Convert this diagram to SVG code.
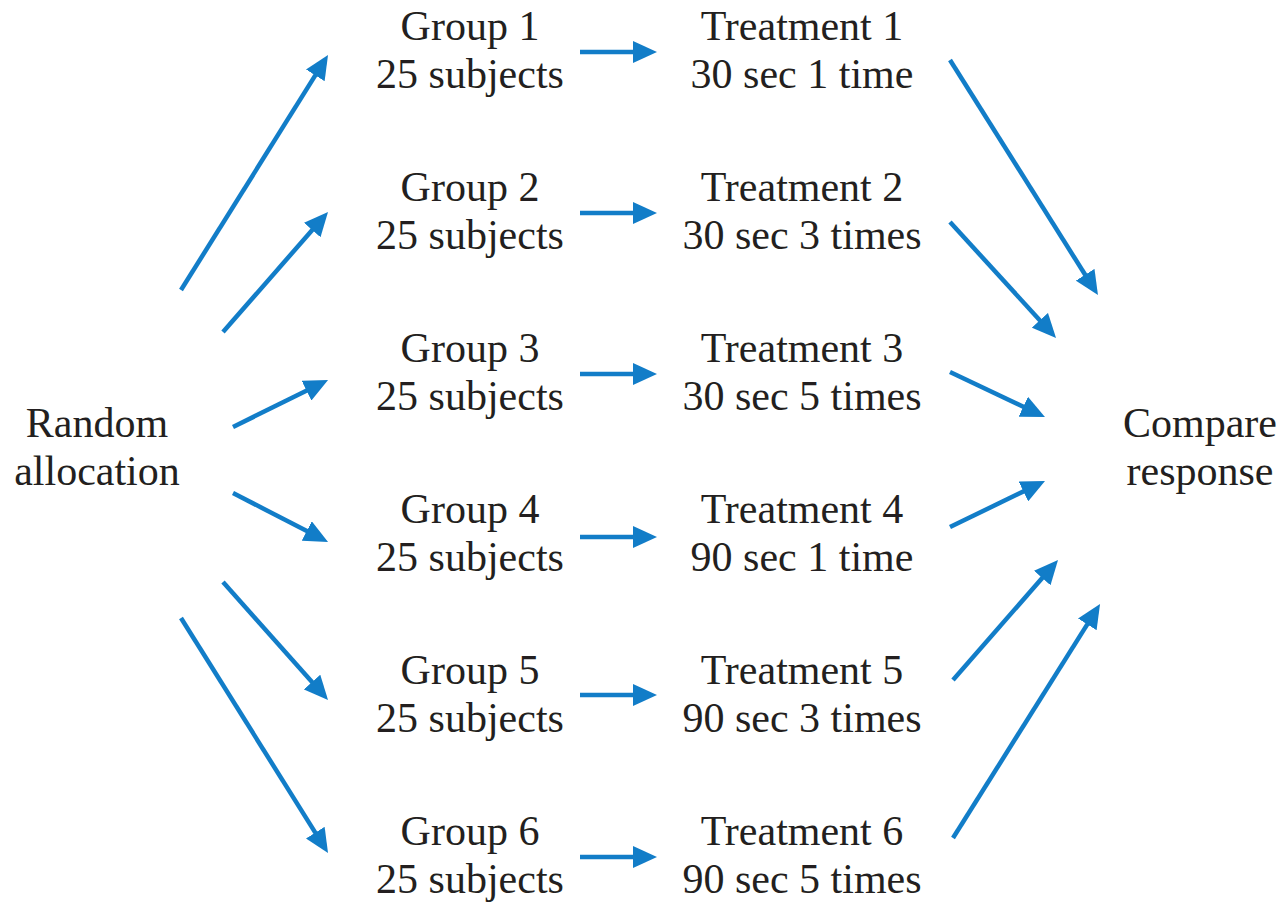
<svg xmlns="http://www.w3.org/2000/svg" width="1287" height="904" viewBox="0 0 1287 904">
<style>
text{font-family:"Liberation Serif","Times New Roman",serif;font-size:42px;fill:#231f20;text-anchor:middle}
.c line{stroke:#127dc8;stroke-width:4.5;marker-end:url(#ah)}
</style>
<defs>
<marker id="ah" markerUnits="userSpaceOnUse" markerWidth="24" markerHeight="22" refX="10" refY="11" orient="auto">
<path d="M0,0 L24,11 L0,22 z" fill="#127dc8"/>
</marker>
</defs>
<rect width="1287" height="904" fill="#fff"/>
<g id="random"><text x="97" y="437">Random</text><text x="97" y="485">allocation</text></g>
<g id="compare"><text x="1200" y="437">Compare</text><text x="1200" y="485">response</text></g>
<g id="group1"><text x="470" y="40">Group 1</text><text x="470" y="88">25 subjects</text></g>
<g id="group2"><text x="470" y="201">Group 2</text><text x="470" y="249">25 subjects</text></g>
<g id="group3"><text x="470" y="362">Group 3</text><text x="470" y="410">25 subjects</text></g>
<g id="group4"><text x="470" y="523">Group 4</text><text x="470" y="571">25 subjects</text></g>
<g id="group5"><text x="470" y="684">Group 5</text><text x="470" y="732">25 subjects</text></g>
<g id="group6"><text x="470" y="845">Group 6</text><text x="470" y="893">25 subjects</text></g>
<g id="treat1"><text x="802" y="40">Treatment 1</text><text x="802" y="88">30 sec 1 time</text></g>
<g id="treat2"><text x="802" y="201">Treatment 2</text><text x="802" y="249">30 sec 3 times</text></g>
<g id="treat3"><text x="802" y="362">Treatment 3</text><text x="802" y="410">30 sec 5 times</text></g>
<g id="treat4"><text x="802" y="523">Treatment 4</text><text x="802" y="571">90 sec 1 time</text></g>
<g id="treat5"><text x="802" y="684">Treatment 5</text><text x="802" y="732">90 sec 3 times</text></g>
<g id="treat6"><text x="802" y="845">Treatment 6</text><text x="802" y="893">90 sec 5 times</text></g>
<g id="connectors" class="c">
<line x1="181" y1="290" x2="320.6" y2="66.9"/>
<line x1="223" y1="332" x2="318.8" y2="222.5"/>
<line x1="233" y1="427" x2="315.5" y2="386.2"/>
<line x1="233" y1="493" x2="315.6" y2="535.6"/>
<line x1="223" y1="582" x2="318.7" y2="689.5"/>
<line x1="181" y1="618" x2="320.6" y2="841.1"/>
<line x1="580" y1="52" x2="643" y2="52"/>
<line x1="580" y1="213" x2="643" y2="213"/>
<line x1="580" y1="374" x2="643" y2="374"/>
<line x1="580" y1="537" x2="643" y2="537"/>
<line x1="580" y1="695" x2="643" y2="695"/>
<line x1="580" y1="857" x2="643" y2="857"/>
<line x1="950" y1="60" x2="1090.5" y2="283.2"/>
<line x1="950" y1="222" x2="1046.6" y2="327.7"/>
<line x1="950" y1="372" x2="1032.3" y2="411"/>
<line x1="950" y1="527" x2="1032.4" y2="487.1"/>
<line x1="953" y1="680" x2="1048.8" y2="570.5"/>
<line x1="953" y1="838" x2="1092.6" y2="615.9"/>
</g>
</svg>
